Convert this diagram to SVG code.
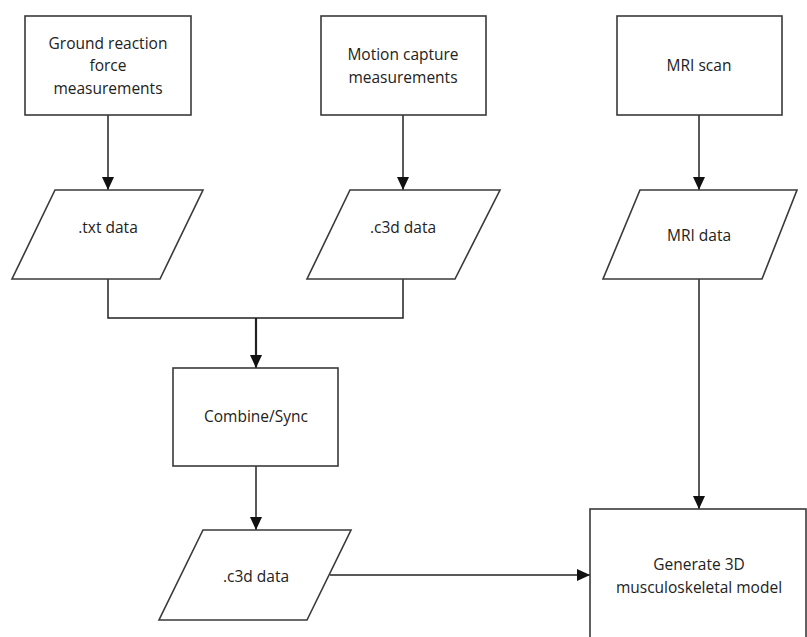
<svg xmlns="http://www.w3.org/2000/svg" width="807" height="637" viewBox="0 0 807 637">
<style>
.box{fill:#fff;stroke:#3a3a3a;stroke-width:1.6}
.lbl{font-family:"Open Sans","DejaVu Sans",sans-serif;font-size:15.5px;fill:#222;text-anchor:middle}
.conn{fill:none;stroke:#222;stroke-width:1.5}
</style>
<defs>
<marker id="ah" markerWidth="12" markerHeight="13" refX="13" refY="6" orient="auto" markerUnits="userSpaceOnUse">
<path d="M0,0 L13,6 L0,12 Z" fill="#111"/>
</marker>
</defs>
<rect width="807" height="637" fill="#fff"/>
<g id="connectors">
<path class="conn" d="M108,115 V190" marker-end="url(#ah)"/>
<path class="conn" d="M403,115 V190" marker-end="url(#ah)"/>
<path class="conn" d="M699,115 V190" marker-end="url(#ah)"/>
<path class="conn" d="M108,279 V318 H403 V279"/>
<path class="conn" d="M256,318 V368" style="stroke-width:2.2" marker-end="url(#ah)"/>
<path class="conn" d="M256,466 V530" marker-end="url(#ah)"/>
<path class="conn" d="M330,575 H590" marker-end="url(#ah)"/>
<path class="conn" d="M699,279 V509" marker-end="url(#ah)"/>
</g>
<g id="grf">
<rect class="box" x="25" y="16" width="166" height="99"/>
<text class="lbl" x="108" y="49">Ground reaction</text>
<text class="lbl" x="108" y="71">force</text>
<text class="lbl" x="108" y="94">measurements</text>
</g>
<g id="mocap">
<rect class="box" x="321" y="16" width="165" height="99"/>
<text class="lbl" x="403" y="60">Motion capture</text>
<text class="lbl" x="403" y="83">measurements</text>
</g>
<g id="mri">
<rect class="box" x="617" y="16" width="165" height="99"/>
<text class="lbl" x="699" y="71">MRI scan</text>
</g>
<g id="txtdata">
<polygon class="box" points="55,190 203,190 160,279 12,279"/>
<text class="lbl" x="108" y="233">.txt data</text>
</g>
<g id="c3d1">
<polygon class="box" points="350,190 500,190 455,279 307,279"/>
<text class="lbl" x="403" y="233">.c3d data</text>
</g>
<g id="mridata">
<polygon class="box" points="640,190 797,190 762,279 603,279"/>
<text class="lbl" x="699" y="241">MRI data</text>
</g>
<g id="combine">
<rect class="box" x="173" y="368" width="165" height="98"/>
<text class="lbl" x="256" y="422">Combine/Sync</text>
</g>
<g id="c3d2">
<polygon class="box" points="203,530 351,530 307,620 159,620"/>
<text class="lbl" x="256" y="582">.c3d data</text>
</g>
<g id="generate">
<rect class="box" x="590" y="509" width="216" height="140"/>
<text class="lbl" x="699" y="570">Generate 3D</text>
<text class="lbl" x="699" y="593">musculoskeletal model</text>
</g>
</svg>
